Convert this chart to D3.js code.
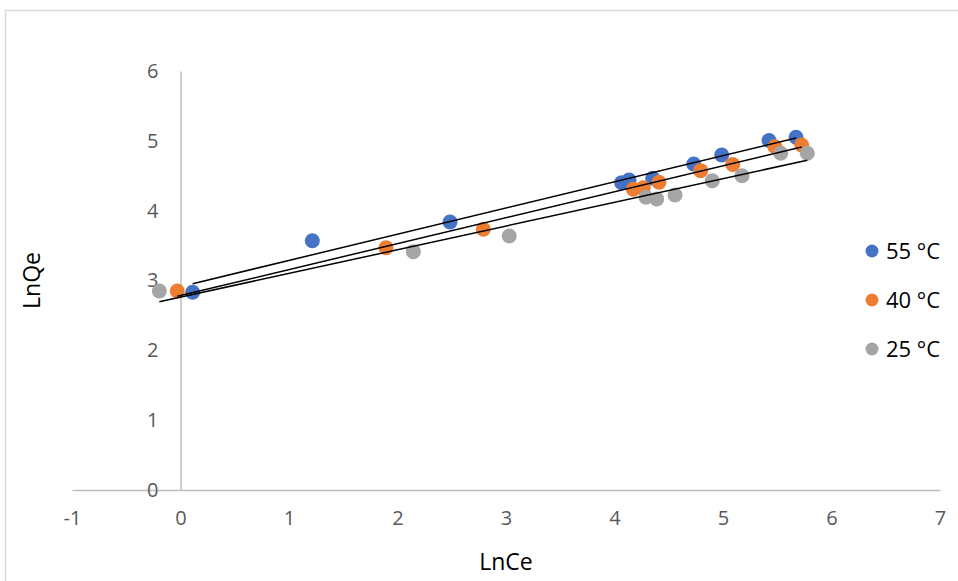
<!DOCTYPE html>
<html>
<head>
<meta charset="utf-8">
<script src="https://cdn.jsdelivr.net/npm/d3@7"></script>
<style>
  html, body { margin: 0; padding: 0; background: #fff; }
  svg { display: block; font-family: "Open Sans", Lato, sans-serif; }
</style>
</head>
<body>
<svg id="chart" width="958" height="581"></svg>
<script>
// Freundlich isotherm data: ln(Ce) vs ln(Qe) at three temperatures
const seriesNames = ["55 °C", "40 °C", "25 °C"];
const seriesColors = ["#4472C4", "#ED7D31", "#A5A5A5"];

const lnCe55 = [0.112, 1.215, 2.484, 4.066, 4.134, 4.352, 4.730, 4.988, 5.424, 5.673];
const lnQe55 = [2.831, 3.570, 3.838, 4.401, 4.439, 4.464, 4.668, 4.797, 5.005, 5.051];

const lnCe40 = [-0.030, 1.894, 2.791, 4.173, 4.265, 4.410, 4.794, 5.090, 5.479, 5.725];
const lnQe40 = [2.850, 3.470, 3.733, 4.306, 4.329, 4.406, 4.573, 4.661, 4.916, 4.941];

const lnCe25 = [-0.195, 2.146, 3.030, 4.290, 4.389, 4.558, 4.901, 5.175, 5.532, 5.777];
const lnQe25 = [2.850, 3.413, 3.637, 4.192, 4.167, 4.225, 4.429, 4.500, 4.822, 4.822];

const xTicks = [-1, 0, 1, 2, 3, 4, 5, 6, 7];
const yTicks = [0, 1, 2, 3, 4, 5, 6];

const series = [
  { name: seriesNames[0], color: seriesColors[0], xs: lnCe55, ys: lnQe55 },
  { name: seriesNames[1], color: seriesColors[1], xs: lnCe40, ys: lnQe40 },
  { name: seriesNames[2], color: seriesColors[2], xs: lnCe25, ys: lnQe25 }
];

const svg = d3.select("#chart");
const fontFamily = "'Open Sans', Lato, sans-serif";

// outer chart frame
svg.append("rect")
  .attr("x", 5.5).attr("y", 10.5)
  .attr("width", 970).attr("height", 590)
  .attr("fill", "none").attr("stroke", "#D9D9D9").attr("stroke-width", 1.5);

const x = d3.scaleLinear().domain([-1, 7]).range([72, 940]);
const y = d3.scaleLinear().domain([0, 6]).range([490, 71]);

const axisColor = "#BFBFBF";
const tickColor = "#595959";
const plainInt = d => String(d);   // keeps an ASCII hyphen for negatives

// x axis at y = 0
const xAxis = svg.append("g")
  .attr("transform", `translate(0,${y(0)})`)
  .call(d3.axisBottom(x).tickValues(xTicks).tickSize(0).tickPadding(21).tickFormat(plainInt));
xAxis.select(".domain").attr("stroke", axisColor).attr("stroke-width", 1.5);
xAxis.selectAll("text").attr("fill", tickColor).attr("font-size", 20).attr("font-family", fontFamily);

// y axis at x = 0, labels pushed left of the axis line
const yAxis = svg.append("g")
  .attr("transform", `translate(${x(0)},0)`)
  .call(d3.axisLeft(y).tickValues(yTicks).tickSize(0).tickPadding(22).tickFormat(plainInt));
yAxis.select(".domain").attr("stroke", axisColor).attr("stroke-width", 1.5);
yAxis.selectAll("text").attr("fill", tickColor).attr("font-size", 20).attr("font-family", fontFamily);

// axis titles
svg.append("text")
  .attr("x", (x(-1) + x(7)) / 2).attr("y", 570)
  .attr("text-anchor", "middle")
  .attr("font-size", 23).attr("fill", "#000")
  .text("LnCe");
svg.append("text")
  .attr("transform", `translate(40,${(y(0) + y(6)) / 2}) rotate(-90)`)
  .attr("text-anchor", "middle")
  .attr("font-size", 23).attr("fill", "#000")
  .text("LnQe");

// data points
series.forEach(s => {
  svg.append("g").selectAll("circle")
    .data(s.xs.map((v, i) => [v, s.ys[i]]))
    .join("circle")
    .attr("cx", d => x(d[0]))
    .attr("cy", d => y(d[1]))
    .attr("r", 7.5)
    .attr("fill", s.color);
});

// least-squares trend lines spanning each series' x range
function fit(xs, ys) {
  const mx = d3.mean(xs), my = d3.mean(ys);
  const b = d3.sum(xs, (v, i) => (v - mx) * (ys[i] - my)) / d3.sum(xs, v => (v - mx) ** 2);
  return { slope: b, intercept: my - b * mx };
}
series.forEach(s => {
  const f = fit(s.xs, s.ys);
  const [x0, x1] = d3.extent(s.xs);
  svg.append("line")
    .attr("x1", x(x0)).attr("y1", y(f.intercept + f.slope * x0))
    .attr("x2", x(x1)).attr("y2", y(f.intercept + f.slope * x1))
    .attr("stroke", "#000").attr("stroke-width", 1.5);
});

// legend
const legend = svg.append("g");
series.forEach((s, i) => {
  const ly = 251 + i * 49;
  legend.append("circle").attr("cx", 872).attr("cy", ly).attr("r", 6.5).attr("fill", s.color);
  legend.append("text")
    .attr("x", 886).attr("y", ly).attr("dy", "0.35em")
    .attr("font-size", 22).attr("fill", "#000")
    .text(s.name);
});
</script>
</body>
</html>
